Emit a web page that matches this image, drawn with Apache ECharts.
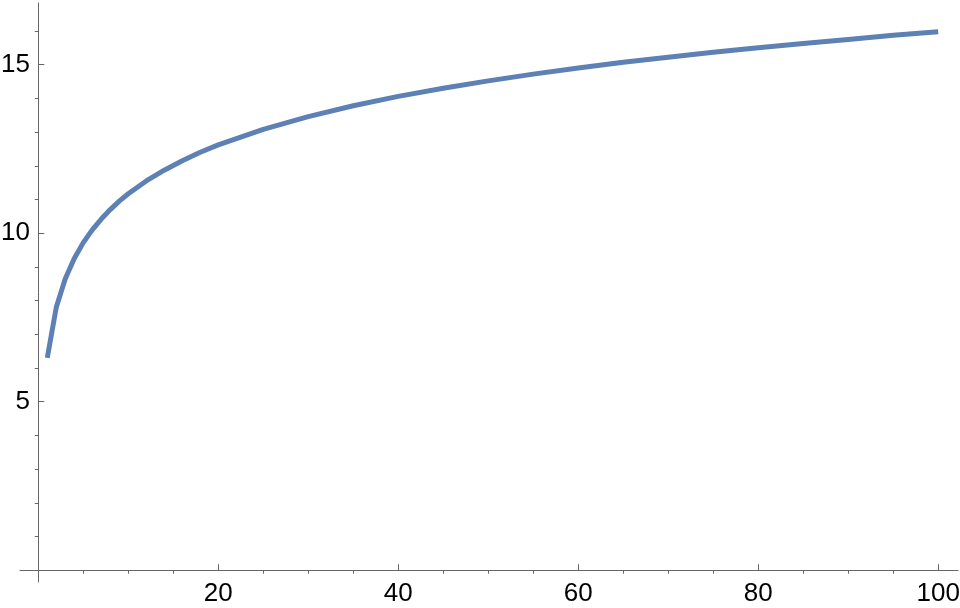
<!DOCTYPE html>
<html>
<head>
<meta charset="utf-8">
<script src="https://cdn.jsdelivr.net/npm/echarts@6/dist/echarts.min.js"></script>
<style>html,body{margin:0;padding:0;background:#fff}#c{width:960px;height:608px}</style>
</head>
<body>
<div id="c"></div>
<script>
// data
var xValues = [1, 2, 3, 4, 5, 6, 7, 8, 9, 10, 12, 14, 16, 18, 20, 25, 30, 35, 40, 45, 50, 55, 60, 65, 70, 75, 80, 85, 90, 95, 100];
var yValues = [6.3, 7.8, 8.65, 9.25, 9.72, 10.1, 10.42, 10.7, 10.95, 11.17, 11.55, 11.87, 12.15, 12.4, 12.62, 13.08, 13.46, 13.78, 14.06, 14.3, 14.52, 14.72, 14.9, 15.07, 15.22, 15.37, 15.5, 15.63, 15.75, 15.87, 15.98];
var xMajorTicks = [20, 40, 60, 80, 100];
var xMinorTicks = [5, 10, 15, 25, 30, 35, 45, 50, 55, 65, 70, 75, 85, 90, 95];
var yMajorTicks = [5, 10, 15];
var yMinorTicks = [1, 2, 3, 4, 6, 7, 8, 9, 11, 12, 13, 14, 16];

var points = xValues.map(function (x, i) { return [x, yValues[i]]; });
var axisColor = '#666666';
var font = 'Liberation Sans, Arial, sans-serif';
var xMin = -2.03, xMax = 102.2, yMin = -0.35, yMax = 16.83;

var chart = echarts.init(document.getElementById('c'), null, {renderer: 'canvas'});
chart.setOption({
  animation: false,
  backgroundColor: '#ffffff',
  grid: {left: 20, right: 2, top: 3, bottom: 26, containLabel: false, outerBoundsMode: 'none'},
  xAxis: [{
    type: 'value', min: xMin, max: xMax,
    axisLine: {show: true, onZero: true, onZeroAxisIndex: 0, lineStyle: {color: axisColor, width: 1}},
    axisTick: {show: true, inside: true, length: 6, customValues: xMajorTicks, lineStyle: {color: axisColor}},
    axisLabel: {show: true, customValues: xMajorTicks, fontSize: 26, color: '#000', fontFamily: font, margin: -1, hideOverlap: false},
    splitLine: {show: false}
  }, {
    type: 'value', min: xMin, max: xMax,
    axisLine: {show: false, onZero: true, onZeroAxisIndex: 0},
    axisTick: {show: true, inside: true, length: 3.5, customValues: xMinorTicks, lineStyle: {color: axisColor}},
    axisLabel: {show: false},
    splitLine: {show: false}
  }],
  yAxis: [{
    type: 'value', min: yMin, max: yMax,
    axisLine: {show: true, onZero: true, onZeroAxisIndex: 0, lineStyle: {color: axisColor, width: 1}},
    axisTick: {show: true, inside: true, length: 6, customValues: yMajorTicks, lineStyle: {color: axisColor}},
    axisLabel: {show: true, customValues: yMajorTicks, fontSize: 26, color: '#000', fontFamily: font, margin: -10, hideOverlap: false},
    splitLine: {show: false}
  }, {
    type: 'value', min: yMin, max: yMax,
    axisLine: {show: false, onZero: true, onZeroAxisIndex: 0},
    axisTick: {show: true, inside: true, length: 3.5, customValues: yMinorTicks, lineStyle: {color: axisColor}},
    axisLabel: {show: false},
    splitLine: {show: false}
  }],
  series: [{
    type: 'line',
    xAxisIndex: 0, yAxisIndex: 0,
    data: points,
    showSymbol: false,
    smooth: false,
    lineStyle: {color: '#5E81B5', width: 5, cap: 'butt', join: 'round'}
  }]
});
</script>
</body>
</html>
